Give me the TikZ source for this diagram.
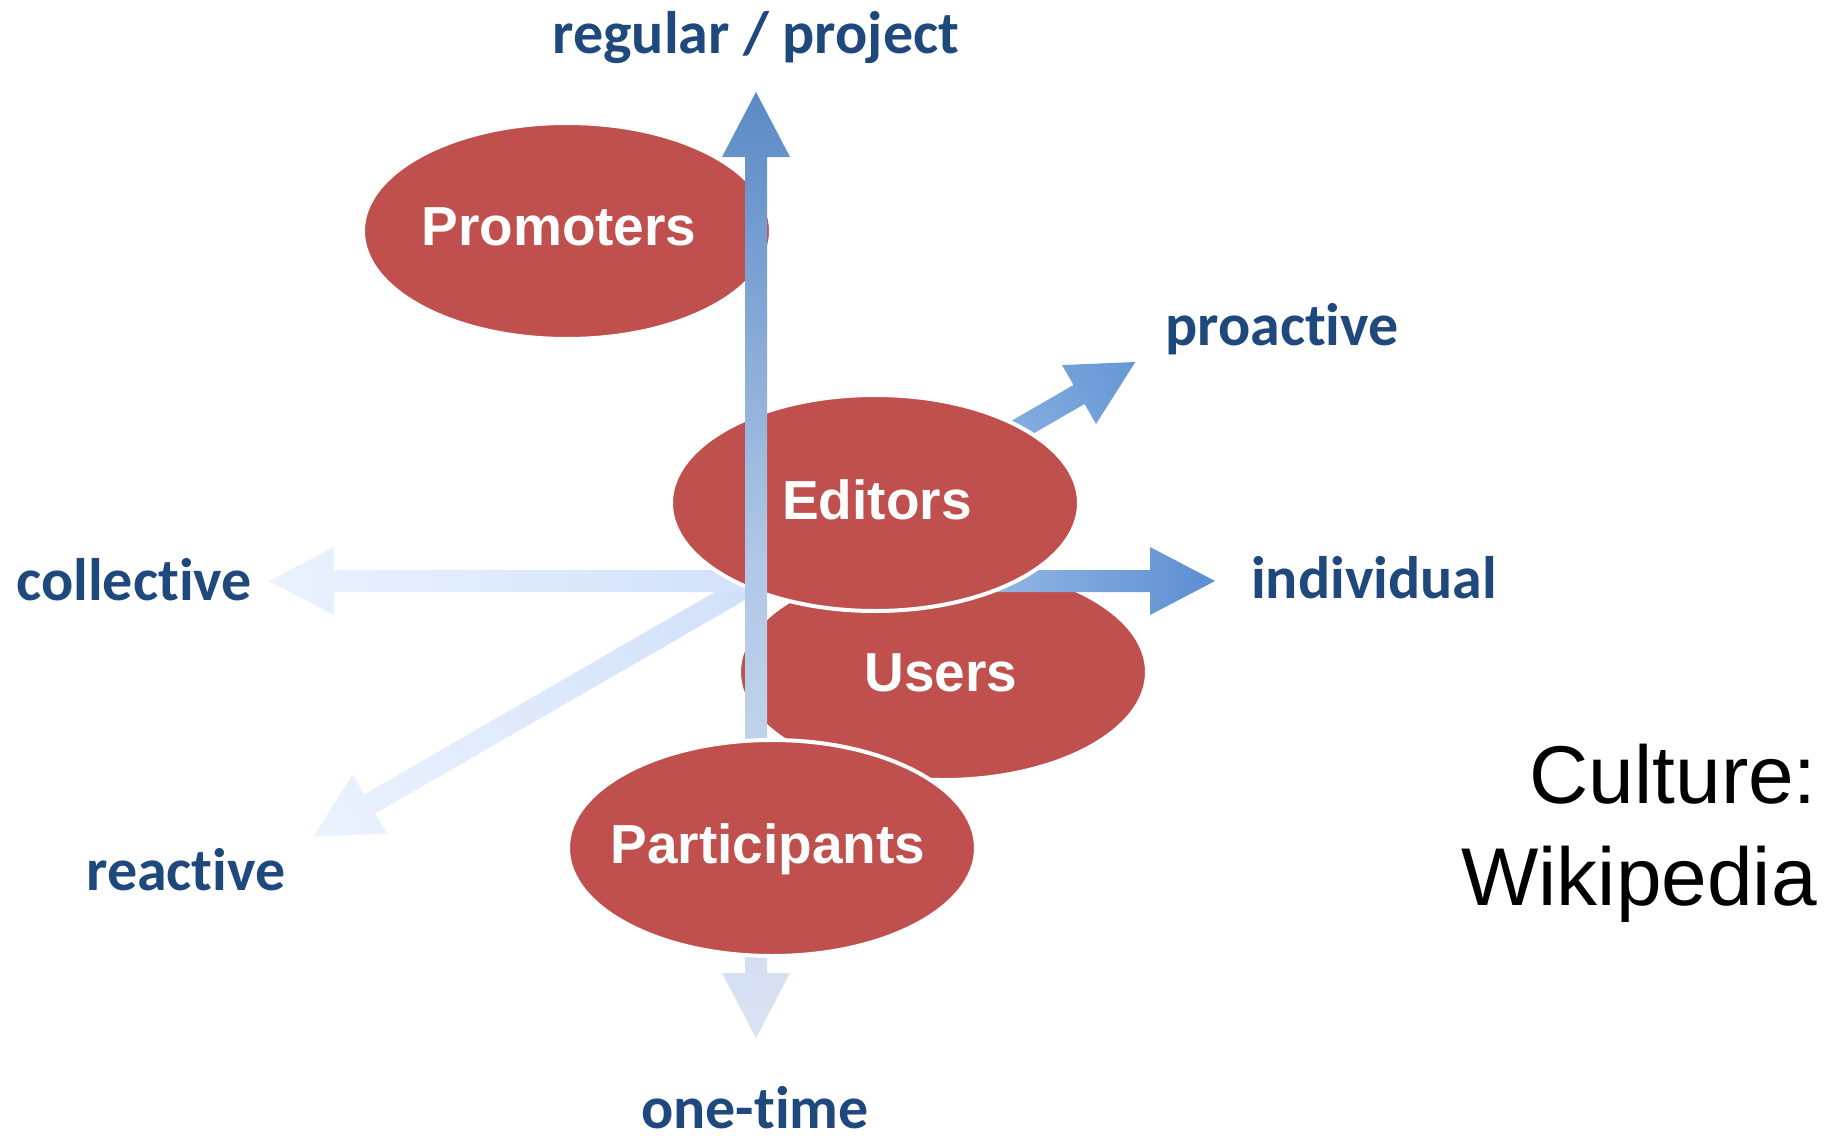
\documentclass[tikz,border=0pt]{standalone}
\usepackage{fontspec}
\newfontfamily\axisfont{Carlito}[Ligatures=NoCommon]
\newfontfamily\arialfont{Liberation Sans}
\usetikzlibrary{shapes.geometric}
\definecolor{ellred}{HTML}{C0504D}
\definecolor{axisblue}{HTML}{1F497D}
\definecolor{paleA}{HTML}{EAF2FE}
\definecolor{paleB}{HTML}{D3E2FA}
\definecolor{deepH}{HTML}{5B8ED0}
\definecolor{deepD}{HTML}{6497D4}
\definecolor{vtop}{HTML}{5A8AC5}
\definecolor{vmid}{HTML}{B1C8E7}
\definecolor{vbot}{HTML}{DAE3F3}
\begin{document}
\begin{tikzpicture}[x=1pt,y=-1pt,
  bubble/.style={ellipse, fill=ellred, draw=white, line width=4pt,
    minimum width=408pt, minimum height=216pt, inner sep=0pt},
  bubbletext/.style={text=white, font=\arialfont\bfseries\fontsize{55}{66}\selectfont,
    anchor=base, inner sep=0pt},
  axislabel/.style={text=axisblue, font=\axisfont\bfseries\fontsize{60}{72}\selectfont,
    anchor=base, inner sep=0pt},
  culture/.style={text=black, font=\arialfont\fontsize{82}{98}\selectfont,
    anchor=base east, inner sep=0pt}]
\fill[white] (0,0) rectangle (1839,1135);
\useasboundingbox (0,0) rectangle (1839,1135);
\coordinate (O) at (756,581);

% Users (lowest)
\node[bubble] (users) at (943,672) {};
\node[bubbletext] (userstext) at (941,691) {Users};

% proactive / reactive axis
\begin{scope}[transform canvas={rotate around={30:(O)}}]
  \shade[left color=paleA, right color=deepD, middle color=paleB]
    (310,570) -- (310,547) -- (245,581) -- (310,615) -- (310,592) --
    (1129,592) -- (1129,615) -- (1194,581) -- (1129,547) -- (1129,570) -- cycle;
\end{scope}

% collective / individual axis
\shade[left color=paleA, right color=deepH, middle color=paleB]
  (334,570) -- (334,547) -- (269,581) -- (334,615) -- (334,592) --
  (1150,592) -- (1150,615) -- (1215,581) -- (1150,547) -- (1150,570) -- cycle;

% Promoters and Editors
\node[bubble] (promoters) at (567,231) {};
\node[bubbletext] (promoterstext) at (559,245) {Promoters};
\node[bubble] (editors) at (875,503) {};
\node[bubbletext] (editorstext) at (877,519) {Editors};

% regular / one-time axis
\shade[top color=vtop, bottom color=vbot, middle color=vmid]
  (745,157) -- (722,157) -- (756,92) -- (790,157) -- (767,157) --
  (767,973) -- (790,973) -- (756,1038) -- (722,973) -- (745,973) -- cycle;

% Participants (top)
\node[bubble] (participants) at (772,848) {};
\node[bubbletext] (participantstext) at (768,863) {Participants};

% axis labels
\node[axislabel] (regular) at (756,53) {regular / project};
\node[axislabel] (proactive) at (1282,345) {proactive};
\node[axislabel] (collective) at (134,600) {collective};
\node[axislabel] (individual) at (1374,598) {individual};
\node[axislabel] (reactive) at (186,890) {reactive};
\node[axislabel] (onetime) at (755,1128) {one-time};

% title
\node[culture] (culturetext) at (1817,803) {Culture:};
\node[culture] (wikitext) at (1817,905) {Wikipedia};
\end{tikzpicture}
\end{document}
